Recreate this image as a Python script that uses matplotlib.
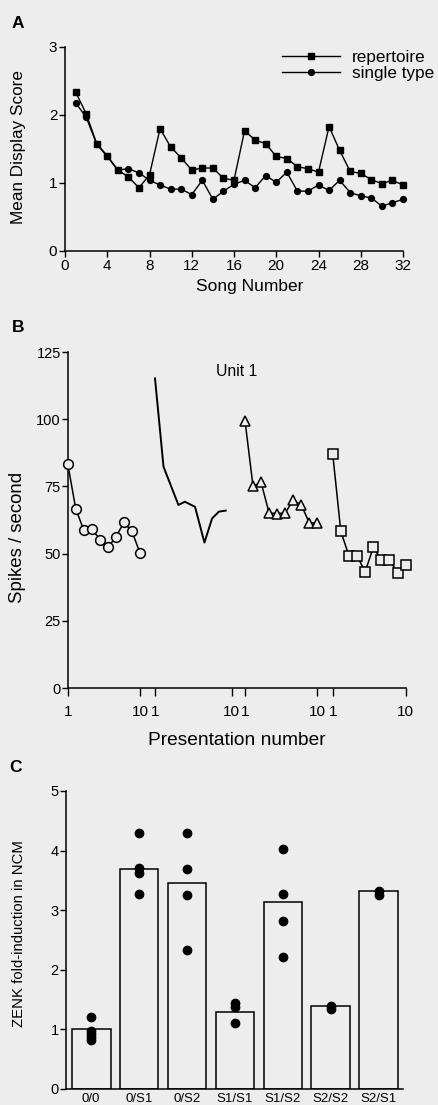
import matplotlib
matplotlib.use("Agg")
import matplotlib.pyplot as plt
import numpy as np

plt.rcParams["font.family"] = ["Liberation Sans", "DejaVu Sans"]
plt.rcParams["axes.linewidth"] = 1.1

BG = "#ededed"

# --- Panel A: mean display score by song number ---
song_number = list(range(1, 33))
repertoire = [2.34, 2.02, 1.58, 1.40, 1.19, 1.09, 0.93, 1.12, 1.80, 1.53, 1.37, 1.19,
              1.22, 1.22, 1.07, 1.04, 1.77, 1.63, 1.58, 1.39, 1.36, 1.24, 1.21, 1.16,
              1.83, 1.48, 1.17, 1.14, 1.05, 0.99, 1.04, 0.97]
single_type = [2.18, 1.97, 1.57, 1.39, 1.19, 1.21, 1.15, 1.04, 0.97, 0.91, 0.91, 0.83,
               1.04, 0.76, 0.88, 0.98, 1.04, 0.93, 1.11, 1.01, 1.16, 0.88, 0.88, 0.97,
               0.89, 1.04, 0.86, 0.81, 0.78, 0.66, 0.71, 0.76]

# --- Panel B: spikes / second over presentations (Unit 1) ---
pres = list(range(1, 11))
circles = [83.5, 66.7, 58.7, 59.3, 55.2, 52.3, 56.2, 61.6, 58.3, 50.2]
trace_x = [1, 2, 3.75, 4.5, 5.7, 6.8, 7.7, 8.5, 9.3]
trace_y = [115.2, 82.3, 68.1, 69.3, 67.4, 54.1, 63.1, 65.6, 66.0]
triangles = [99.5, 75.0, 76.5, 65.1, 64.9, 65.1, 69.8, 68.2, 61.4, 61.4]
squares = [87.1, 58.3, 49.2, 49.2, 43.2, 52.3, 47.7, 47.7, 42.8, 45.6]

# --- Panel C: ZENK fold-induction ---
groups = ["0/0", "0/S1", "0/S2", "S1/S1", "S1/S2", "S2/S2", "S2/S1"]
group_means = [1.00, 3.69, 3.45, 1.29, 3.14, 1.40, 3.32]
group_points = [
    [1.20, 0.98, 0.93, 0.87, 0.82],
    [4.29, 3.70, 3.63, 3.28],
    [4.30, 3.69, 3.26, 2.33],
    [1.45, 1.38, 1.11],
    [4.02, 3.28, 2.82, 2.21],
    [1.40, 1.34],
    [3.32, 3.26],
]

W, H = 438, 1105
fig = plt.figure(figsize=(W / 100, H / 100), dpi=100, facecolor=BG)


def px_axes(left, right, top, bottom):
    """axes rect from pixel edges"""
    return [left / W, 1 - bottom / H, (right - left) / W, (bottom - top) / H]


# ================= A =================
ax = fig.add_axes(px_axes(65, 403, 47, 251))
ax.set_facecolor("none")
ax.plot(song_number, repertoire, "-s", color="black", lw=1.0, ms=4.2, label="repertoire",
        clip_on=False)
ax.plot(song_number, single_type, "-o", color="black", lw=1.0, ms=4.2, label="single type",
        clip_on=False)
ax.set_xlim(0, 32)
ax.set_ylim(0, 3)
ax.set_xticks(range(0, 33, 4))
ax.set_yticks([0, 1, 2, 3])
ax.tick_params(direction="out", length=4, width=1.0, labelsize=11, pad=1.5)
ax.spines[["top", "right"]].set_visible(False)
ax.set_ylabel("Mean Display Score", fontsize=12.3)
ax.yaxis.set_label_coords(-0.115, 0.51)
ax.set_xlabel("Song Number", fontsize=12.5)
ax.xaxis.set_label_coords(0.547, -0.135)
ax.legend(loc="upper left", bbox_to_anchor=(0.642, 0.985), frameon=False, fontsize=12.3,
          handlelength=3.4, handletextpad=0.7, labelspacing=0.08, borderpad=0,
          borderaxespad=0)
fig.text(18 / W, 1 - 23 / H, "A", fontsize=12.5, fontweight="bold", ha="center", va="center")

# ================= B =================
axb = fig.add_axes(px_axes(67.7, 405.7, 352, 688))
axb.set_facecolor("none")
axb.set_ylim(0, 125)
axb.set_yticks(range(0, 126, 25))
axb.set_xticks([])
axb.tick_params(axis="y", direction="out", length=4, width=1.0, labelsize=10.5, pad=1)
axb.spines[["top", "right"]].set_visible(False)
axb.set_ylabel("Spikes / second", fontsize=13.4)
axb.yaxis.set_label_coords(-0.123, 0.449)
axb.set_xlabel("Presentation number", fontsize=13.8)
axb.xaxis.set_label_coords(0.5, -0.13)
axb.text(0.5, 0.943, "Unit 1", transform=axb.transAxes, ha="center", va="center", fontsize=11.3)

segments = [(67.7, 140), (155, 231.7), (245, 317.3), (332.7, 405.7)]
seg_axes = []
for left, right in segments:
    s = fig.add_axes(px_axes(left, right, 352, 688))
    s.set_facecolor("none")
    s.set_xlim(1, 10)
    s.set_ylim(0, 125)
    s.set_xticks([1, 10])
    s.set_yticks([])
    for sp in s.spines.values():
        sp.set_visible(False)
    s.tick_params(axis="x", direction="out", length=6, width=1.0, labelsize=11, pad=6)
    seg_axes.append(s)

mk = dict(color="black", lw=1.1, mfc=BG, mec="black", mew=1.1, clip_on=False)
seg_axes[0].plot(pres, circles, "-o", ms=7, **mk)
seg_axes[1].plot(trace_x, trace_y, "-", color="black", lw=1.4, clip_on=False)
seg_axes[2].plot(pres, triangles, "-^", ms=7, **mk)
seg_axes[3].plot(pres, squares, "-s", ms=7, **mk)
fig.text(18 / W, 1 - 327 / H, "B", fontsize=12.5, fontweight="bold", ha="center", va="center")

# ================= C =================
axc = fig.add_axes(px_axes(65.7, 403.3, 791, 1089))
axc.set_facecolor("none")
x = np.arange(len(groups))
axc.bar(x, group_means, width=0.81, facecolor="none", edgecolor="black", linewidth=1.1)
for xi, pts in zip(x, group_points):
    axc.plot([xi] * len(pts), pts, "o", color="black", ms=6, clip_on=False)
axc.set_xlim(-0.53, 6.51)
axc.set_ylim(0, 5)
axc.set_yticks(range(0, 6))
axc.set_xticks(x)
axc.set_xticklabels(groups)
axc.tick_params(axis="y", direction="out", length=4, width=1.0, labelsize=10.5, pad=1)
axc.tick_params(axis="x", length=0, labelsize=9.5, pad=3)
axc.spines[["top", "right"]].set_visible(False)
axc.set_ylabel("ZENK fold-induction in NCM", fontsize=10.7)
axc.yaxis.set_label_coords(-0.118, 0.52)
fig.text(15 / W, 1 - 767 / H, "C", fontsize=12.5, fontweight="bold", ha="center", va="center")

fig.savefig("out.png", dpi=100, facecolor=BG)
